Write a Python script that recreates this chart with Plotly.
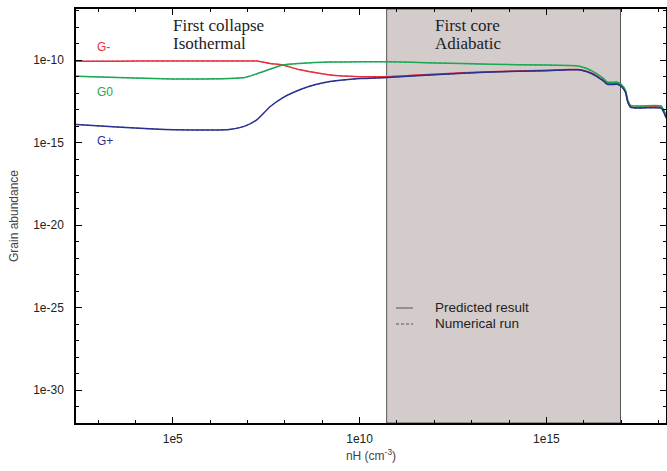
import math
import plotly.graph_objects as go

# Density grid (cm^-3)
nH = [2.6e2, 3.2e3, 3.2e4, 3.2e5, 3.2e6, 8.5e6, 1.8e7, 4.0e7, 8.7e7, 2.5e8,
      6.3e8, 1.6e9, 1.0e10, 5.6e10, 1.0e12, 3.2e13, 1.0e15, 4.0e15, 7.1e15,
      1.1e16, 1.6e16, 2.2e16, 3.2e16, 4.3e16, 7.9e16, 1.0e17, 1.3e17, 1.5e17,
      1.8e17, 1.17e18, 1.38e18, 1.6e18]

g_minus = [8.7e-11, 8.7e-11, 8.9e-11, 8.9e-11, 8.9e-11, 8.9e-11, 8.9e-11, 6.3e-11,
           5.0e-11, 2.6e-11, 1.8e-11, 1.26e-11, 1.0e-11, 1.0e-11, 1.41e-11, 2.0e-11,
           2.4e-11, 2.7e-11, 2.7e-11, 2.24e-11, 1.66e-11, 1.12e-11, 6.3e-12, 3.9e-12,
           3.9e-12, 2.8e-12, 1.26e-12, 3.2e-13, 1.5e-13, 1.41e-13, 7.9e-14, 3.5e-14]

g_zero = [1.07e-11, 8.9e-12, 7.6e-12, 7.1e-12, 7.6e-12, 8.9e-12, 1.5e-11, 2.8e-11,
          5.0e-11, 6.3e-11, 7.1e-11, 7.6e-11, 7.9e-11, 7.9e-11, 6.8e-11, 5.6e-11,
          5.0e-11, 4.7e-11, 4.4e-11, 3.3e-11, 2.3e-11, 1.5e-11, 8.3e-12, 4.6e-12,
          4.6e-12, 3.4e-12, 1.5e-12, 3.8e-13, 1.8e-13, 1.66e-13, 9.3e-14, 4.2e-14]

g_plus = [1.26e-14, 8.9e-15, 6.6e-15, 5.8e-15, 6.3e-15, 1.0e-14, 2.5e-14, 1.5e-13,
          5.2e-13, 1.6e-12, 3.2e-12, 5.0e-12, 7.6e-12, 8.9e-12, 1.3e-11, 1.9e-11,
          2.3e-11, 2.6e-11, 2.6e-11, 2.1e-11, 1.55e-11, 1.05e-11, 5.9e-12, 3.4e-12,
          3.4e-12, 2.6e-12, 1.15e-12, 2.9e-13, 1.35e-13, 1.23e-13, 6.9e-14, 3.1e-14]

series_names = ["G-", "G0", "G+"]
series_colors = ["#e8303a", "#1aa855", "#2b2f8f"]
series_label_y = [6.3e-10, 1.15e-12, 1.26e-15]

legend_labels = ["Predicted result", "Numerical run"]
legend_dashes = ["solid", "3px,2px"]

core_bounds = [5.3e10, 9.6e16]

x_tickvals = [1e5, 1e10, 1e15]
x_ticktext = ["1e5", "1e10", "1e15"]
y_tickvals = [1e-30, 1e-25, 1e-20, 1e-15, 1e-10]
y_ticktext = ["1e-30", "1e-25", "1e-20", "1e-15", "1e-10"]

fig = go.Figure()

for name, vals, col in zip(series_names, [g_minus, g_zero, g_plus], series_colors):
    fig.add_trace(go.Scatter(x=nH, y=vals, mode="lines", showlegend=False, name=name,
                             line=dict(color=col, width=1.5, shape="spline", smoothing=0.6)))
    fig.add_trace(go.Scatter(x=nH, y=vals, mode="lines", showlegend=False, name=name,
                             line=dict(color=col, width=1, dash="3px,2px", shape="spline", smoothing=0.6),
                             opacity=0.8))

fig.add_shape(type="rect", xref="x", yref="paper", x0=core_bounds[0], x1=core_bounds[1],
              y0=0, y1=1, fillcolor="#d4ccca", line=dict(color="#555555", width=1), layer="below")

for name, col, yv in zip(series_names, series_colors, series_label_y):
    fig.add_annotation(x=0.032, xref="paper", y=math.log10(yv), yref="y", text=name, showarrow=False,
                       xanchor="left", font=dict(family="Liberation Sans", size=12, color=col))

serif = dict(family="Liberation Serif", size=17, color="#222222")
phase_text = [("First collapse", 0.161, 26), ("Isothermal", 0.161, 43),
              ("First core", 0.605, 26), ("Adiabatic", 0.605, 43)]
for txt, xp, ypx in phase_text:
    fig.add_annotation(x=xp, xref="paper", y=(423 - ypx) / 414, yref="paper", yanchor="middle",
                       xanchor="left", showarrow=False, text=txt, font=serif)

# legend key drawn by hand (gnuplot style)
for i, (lab, dsh) in enumerate(zip(legend_labels, legend_dashes)):
    ypx = 308 + 16 * i
    yp = (423 - ypx) / 414
    fig.add_shape(type="line", xref="paper", yref="paper", x0=(396 - 76) / 590, x1=(413 - 76) / 590,
                  y0=yp, y1=yp, line=dict(color="#555555", width=1, dash=dsh))
    fig.add_annotation(x=(433 - 76) / 590, xref="paper", y=yp + 0.002, yref="paper", xanchor="left",
                       yanchor="middle", showarrow=False, text=lab,
                       font=dict(family="Liberation Sans", size=13.5, color="#222222"))

axis_font = dict(family="Liberation Sans", size=12, color="#222222")

fig.update_xaxes(type="log", range=[2.41, 18.2], showline=True, linecolor="black", linewidth=1.5,
                 mirror="ticks", ticks="inside", ticklen=6, tickcolor="black",
                 tickmode="array", tickvals=x_tickvals, ticktext=x_ticktext,
                 minor=dict(ticks="inside", ticklen=3, tickcolor="black",
                            tickvals=[10 ** k for k in range(3, 19)]),
                 showgrid=False, zeroline=False, tickfont=axis_font, ticklabelstandoff=4,
                 automargin=False,
                 title=dict(text="nH (cm<sup>-3</sup>)", font=dict(family="Liberation Sans", size=12, color="#444444"),
                            standoff=6))
fig.update_yaxes(type="log", range=[-32, -6.9], showline=True, linecolor="black", linewidth=1.5,
                 mirror="ticks", ticks="inside", ticklen=6, tickcolor="black",
                 tickmode="array", tickvals=y_tickvals, ticktext=y_ticktext,
                 minor=dict(ticks="inside", ticklen=3, tickcolor="black",
                            tickvals=[10 ** (-k) for k in range(7, 33)]),
                 showgrid=False, zeroline=False, tickfont=axis_font, ticklabelstandoff=8,
                 automargin=False,
                 title=dict(text="Grain abundance", font=dict(family="Liberation Sans", size=12, color="#444444"),
                            standoff=12))

fig.update_layout(width=667, height=471, margin=dict(l=76, r=1, t=9, b=48, autoexpand=False),
                  plot_bgcolor="white", paper_bgcolor="white", showlegend=False)

fig.write_html("out.html", config={"displayModeBar": False},
               post_script="document.body.style.margin='0';document.body.style.overflow='hidden';")
